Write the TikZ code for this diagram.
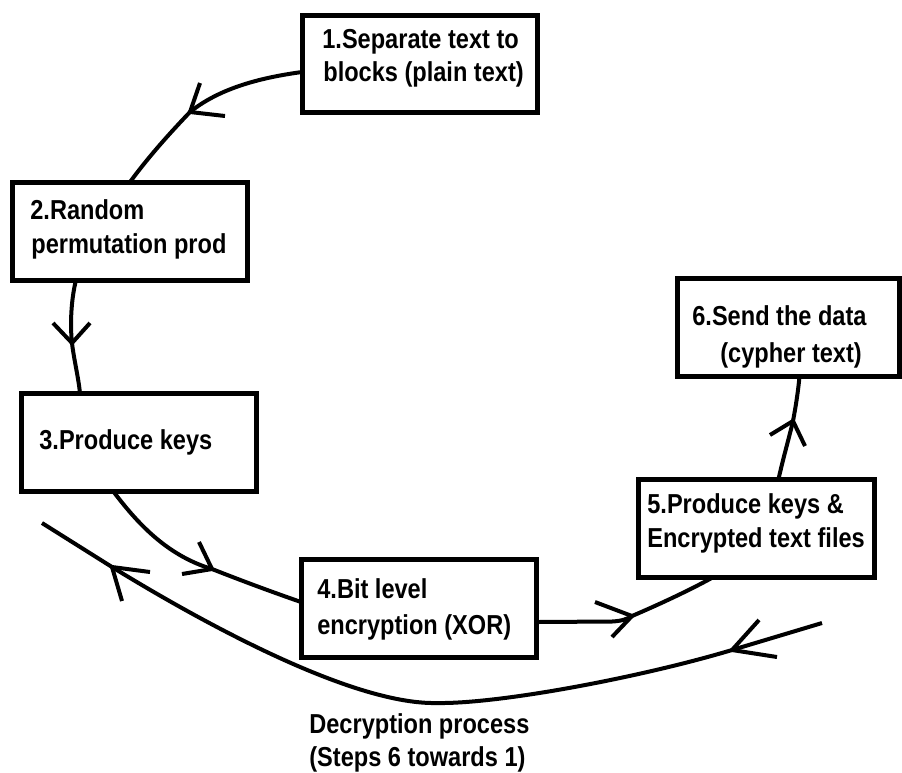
\documentclass[tikz,border=0pt]{standalone}
\usepackage{fontspec}
\setmainfont{Liberation Sans}[FakeStretch=0.86]
\usetikzlibrary{calc}
\begin{document}
\begin{tikzpicture}[x=0.02cm, y=-0.02cm,
  stage/.style={draw, rectangle, line width=0.1cm, minimum width=4.72cm,
                minimum height=1.96cm, inner sep=0pt, outer sep=0pt},
  txt/.style={font=\bfseries\fontsize{15.6pt}{18pt}\selectfont,
              inner sep=0pt, anchor=base west},
  flow/.style={line width=0.08cm},
  barb/.style={line width=0.08cm, line join=round}]
\useasboundingbox (0,0) rectangle (902,772);

% process stages
\node[stage] (b1) at (420,64) {};
\node[stage] (b2) at (130,231) {};
\node[stage] (b3) at (139,442) {};
\node[stage] (b4) at (419,608) {};
\node[stage] (b5) at (756.5,528) {};
\node[stage, minimum width=4.44cm] (b6) at (788.5,327.5) {};

% stage captions
\node[txt] (l1a) at (322,48) {1.Separate text to};
\node[txt] (l1b) at (323,81) {blocks (plain text)};
\node[txt] (l2a) at (30,219) {2.Random};
\node[txt] (l2b) at (31,253) {permutation prod};
\node[txt] (l3)  at (39,449) {3.Produce keys};
\node[txt] (l4a) at (317,598) {4.Bit level};
\node[txt] (l4b) at (317,634) {encryption (XOR)};
\node[txt] (l5a) at (647,513) {5.Produce keys \&};
\node[txt] (l5b) at (647,547) {Encrypted text files};
\node[txt] (l6a) at (692,325) {6.Send the data};
\node[txt] (l6b) at (720,362) {(cypher text)};
\node[txt] (ld1) at (309,733) {Decryption process};
\node[txt] (ld2) at (309,766) {(Steps 6 towards 1)};

% points where the arrowheads sit
\coordinate (t12) at (190,112);
\coordinate (t23) at (72,343);
\coordinate (t34) at (212,569);
\coordinate (t45) at (632,616);
\coordinate (t56) at (793,421);
% decryption path
\coordinate (dR) at (822,623);
\coordinate (tR) at (732,650);
\coordinate (dB) at (437,703);
\coordinate (tL) at (112,567);
\coordinate (dL) at (42,523);

% encryption flow
\draw[flow] ($(b1.west)+(0,8)$) .. controls (250,79) and (215,92) .. (t12)
            .. controls (170,133) and (150,155) .. (b2.north);
\draw[flow] ($(b2.south)+(-54,0)$) .. controls (71,300) and (70,325) .. (t23)
            .. controls (74,360) and (78,375) .. ($(b3.north)+(-59,0)$);
\draw[flow] ($(b3.south)+(-26,0)$) .. controls (135,520) and (165,555) .. (t34)
            .. controls (245,582) and (275,593) .. ($(b4.west)+(0,-6)$);
\draw[flow] ($(b4.east)+(0,14)$) -- (612,621.5) .. controls (622,621) and (627,619) .. (t45)
            .. controls (660,604) and (690,590) .. ($(b5.south)+(-43,0)$);
\draw[flow] ($(b5.north)+(22,0)$) .. controls (784,455) and (789,438) .. (t56)
            .. controls (796,405) and (798,392) .. ($(b6.south)+(11,0)$);

% decryption flow
\draw[flow] (dR) -- (tR) .. controls (642,677) and (500,704) .. (dB)
            .. controls (350,705) and (195,618) .. (tL) -- (dL);

% arrowheads
\draw[barb] ($(t12)+(10,-29)$) -- (t12) -- ++(35,4);
\draw[barb] ($(t23)+(-19,-20)$) -- (t23) -- ++(18,-20);
\draw[barb] ($(t34)+(-13,-27)$) -- (t34) -- ++(-30,5);
\draw[barb] ($(t45)+(-37,-14)$) -- (t45) -- ++(-20,21);
\draw[barb] ($(t56)+(-23,14)$) -- (t56) -- ++(12,25);
\draw[barb] ($(tR)+(27,-30)$) -- (tR) -- ++(45,7);
\draw[barb] ($(tL)+(38,5)$) -- (tL) -- ++(10,34);
\end{tikzpicture}
\end{document}
